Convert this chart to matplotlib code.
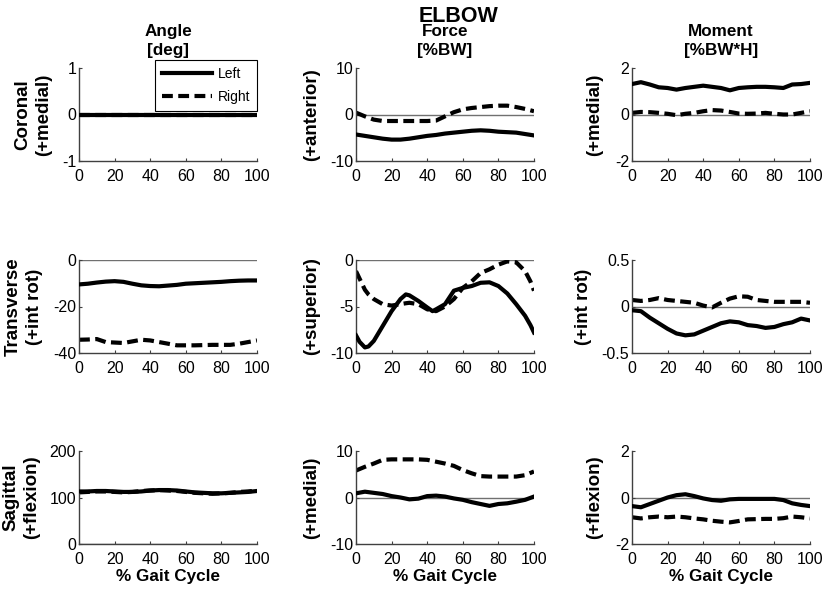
import numpy as np
import matplotlib.pyplot as plt
import matplotlib as mpl

mpl.rcParams['font.family'] = ['Liberation Sans', 'DejaVu Sans']

# % gait cycle sample points
gait = [0, 5, 10, 15, 20, 25, 30, 35, 40, 45, 50, 55, 60, 65, 70, 75, 80, 85, 90, 95, 100]
gait_ft = [0, 2, 5, 7, 10, 15, 20, 25, 28, 30, 35, 40, 43, 45, 50, 55, 60, 65, 70, 75, 80, 85, 90, 95, 98, 100]

# angle [deg]
ang_cor_L = [0] * 21
ang_cor_R = [0] * 21
ang_tra_L = [-10.5, -10.2, -9.7, -9.3, -9.1, -9.4, -10.2, -10.9, -11.2, -11.3, -11.0, -10.7, -10.2, -10.0, -9.8, -9.6, -9.4, -9.1, -8.9, -8.8, -8.8]
ang_tra_R = [-34.3, -34.2, -34.0, -35.3, -35.5, -35.7, -35.0, -34.3, -34.6, -35.3, -36.0, -36.7, -36.7, -36.7, -36.6, -36.5, -36.5, -36.5, -36.0, -35.3, -34.6]
ang_sag_L = [113, 113, 114, 114, 113, 112, 112, 113, 115, 116, 116, 115, 113, 111, 110, 109, 109, 110, 111, 112, 114]
ang_sag_R = [111, 112, 113, 113, 112, 111, 112, 114, 115, 116, 115, 114, 112, 110, 109, 108, 109, 110, 112, 113, 115]

# force [%BW]
frc_cor_L = [-4.3, -4.6, -4.9, -5.2, -5.4, -5.4, -5.2, -4.9, -4.6, -4.4, -4.1, -3.9, -3.7, -3.5, -3.4, -3.5, -3.7, -3.8, -3.9, -4.2, -4.5]
frc_cor_R = [0.4, -0.4, -1.1, -1.4, -1.4, -1.4, -1.4, -1.4, -1.4, -1.3, -0.4, 0.5, 1.1, 1.4, 1.6, 1.8, 1.9, 1.9, 1.6, 1.2, 0.7]
frc_tra_L = [-8.1, -8.8, -9.4, -9.3, -8.7, -7.1, -5.5, -4.2, -3.7, -3.8, -4.4, -5.1, -5.5, -5.3, -4.75, -3.3, -3.0, -2.8, -2.45, -2.4, -2.8, -3.6, -4.75, -6.0, -7.0, -7.8]
frc_tra_R = [-1.2, -2.0, -3.2, -3.7, -4.2, -4.75, -4.9, -4.75, -4.65, -4.6, -4.75, -5.3, -5.45, -5.5, -5.0, -4.2, -3.0, -2.3, -1.4, -1.0, -0.5, -0.15, -0.25, -1.2, -2.3, -3.3]
frc_sag_L = [0.9, 1.25, 1.0, 0.75, 0.3, 0.0, -0.4, -0.25, 0.3, 0.4, 0.2, -0.2, -0.5, -1.0, -1.4, -1.8, -1.4, -1.25, -0.9, -0.5, 0.2]
frc_sag_R = [5.8, 6.6, 7.3, 8.1, 8.2, 8.2, 8.2, 8.2, 8.1, 7.7, 7.3, 6.8, 5.9, 5.2, 4.6, 4.5, 4.5, 4.5, 4.5, 4.8, 5.6]

# moment [%BW*H]
mom_cor_L = [1.31, 1.39, 1.29, 1.17, 1.14, 1.07, 1.14, 1.19, 1.24, 1.19, 1.14, 1.04, 1.14, 1.17, 1.19, 1.19, 1.17, 1.14, 1.29, 1.31, 1.36]
mom_cor_R = [0.07, 0.11, 0.10, 0.07, 0.03, -0.03, 0.03, 0.07, 0.14, 0.19, 0.17, 0.11, 0.04, 0.03, 0.04, 0.07, 0.03, 0.0, 0.0, 0.07, 0.14]
mom_tra_L = [-0.04, -0.05, -0.12, -0.18, -0.24, -0.29, -0.31, -0.30, -0.26, -0.22, -0.18, -0.16, -0.17, -0.20, -0.21, -0.23, -0.22, -0.19, -0.17, -0.13, -0.15]
mom_tra_R = [0.07, 0.06, 0.07, 0.09, 0.07, 0.06, 0.05, 0.04, 0.01, -0.01, 0.04, 0.085, 0.11, 0.105, 0.07, 0.06, 0.05, 0.05, 0.05, 0.05, 0.04]
mom_sag_L = [-0.37, -0.42, -0.28, -0.14, 0.0, 0.1, 0.14, 0.06, -0.04, -0.11, -0.14, -0.08, -0.06, -0.06, -0.06, -0.06, -0.06, -0.11, -0.25, -0.32, -0.37]
mom_sag_R = [-0.85, -0.9, -0.85, -0.82, -0.85, -0.82, -0.85, -0.9, -0.94, -1.0, -1.04, -1.07, -1.01, -0.94, -0.93, -0.92, -0.92, -0.89, -0.82, -0.85, -0.9]

col_titles = ['Angle\n[deg]', 'Force\n[%BW]', 'Moment\n[%BW*H]']
row_names = ['Coronal', 'Transverse', 'Sagittal']
ylabels = [['(+medial)', '(+anterior)', '(+medial)'],
           ['(+int rot)', '(+superior)', '(+int rot)'],
           ['(+flexion)', '(+medial)', '(+flexion)']]
ylims = [[(-1, 1), (-10, 10), (-2, 2)],
         [(-40, 0), (-10, 0), (-0.5, 0.5)],
         [(0, 200), (-10, 10), (-2, 2)]]
yticks = [[[-1, 0, 1], [-10, 0, 10], [-2, 0, 2]],
          [[-40, -20, 0], [-10, -5, 0], [-0.5, 0, 0.5]],
          [[0, 100, 200], [-10, 0, 10], [-2, 0, 2]]]

series = [[(gait, ang_cor_L, ang_cor_R), (gait, frc_cor_L, frc_cor_R), (gait, mom_cor_L, mom_cor_R)],
          [(gait, ang_tra_L, ang_tra_R), (gait_ft, frc_tra_L, frc_tra_R), (gait, mom_tra_L, mom_tra_R)],
          [(gait, ang_sag_L, ang_sag_R), (gait, frc_sag_L, frc_sag_R), (gait, mom_sag_L, mom_sag_R)]]

W, H = 825, 590
fig = plt.figure(figsize=(W / 100, H / 100), dpi=100)

# axes boxes in pixels
left_px = [79, 356, 632]
bottom_px = [161, 353, 544]
w_px, h_px = 178, 93
# right edge (pixels) of each y label block
ylab_px = [[52, 320, 603],
           [43, 320, 592],
           [40, 320, 603]]

for r in range(3):
    for c in range(3):
        ax = fig.add_axes([left_px[c] / W, 1 - bottom_px[r] / H, w_px / W, h_px / H])
        x, yl, yr = series[r][c]
        ax.axhline(0, color='#707070', lw=1.0, zorder=1)
        ax.plot(x, yr, color='black', lw=3, ls='--', dashes=(2.6, 1.3), label='Right', zorder=2)
        ax.plot(x, yl, color='black', lw=3, label='Left', zorder=3)
        ax.set_xlim(0, 100)
        ax.set_ylim(*ylims[r][c])
        ax.set_xticks([0, 20, 40, 60, 80, 100])
        ax.set_yticks(yticks[r][c])
        ax.set_yticklabels(['%g' % v for v in yticks[r][c]])
        ax.spines['top'].set_visible(False)
        ax.spines['right'].set_visible(False)
        for s in ['left', 'bottom']:
            ax.spines[s].set_color('#404040')
            ax.spines[s].set_linewidth(1.0)
        ax.tick_params(direction='in', length=2.5, width=0.8, color='#404040',
                       labelsize=11.5, pad=2)
        ax.tick_params(axis='x', pad=5.5)
        lab = ylabels[r][c]
        if c == 0:
            lab = row_names[r] + '\n' + lab
        ax.set_ylabel(lab, fontsize=13.5, fontweight='bold', linespacing=1.3)
        ax.yaxis.set_label_coords((ylab_px[r][c] - left_px[c]) / w_px, 0.5)
        if r == 0:
            ax.set_title(col_titles[c], fontsize=12.3, fontweight='bold', pad=9, linespacing=1.35)
        if r == 2:
            ax.set_xlabel('% Gait Cycle', fontsize=12.3, fontweight='bold', labelpad=2)
        if r == 0 and c == 0:
            hs, ls = ax.get_legend_handles_labels()
            leg = ax.legend(hs[::-1], ls[::-1], loc='upper right', bbox_to_anchor=(1.0, 1.09),
                            borderaxespad=0, fontsize=10, handlelength=3.6, fancybox=False,
                            framealpha=1, edgecolor='black', borderpad=0.5, labelspacing=0.65,
                            handletextpad=0.4)
            leg.get_frame().set_linewidth(0.8)

fig.text(0.556, 0.972, 'ELBOW', ha='center', va='center', fontsize=15.5, fontweight='bold')

fig.savefig('out.png', dpi=100)
